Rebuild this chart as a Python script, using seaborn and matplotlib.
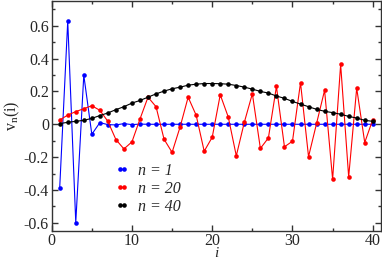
import numpy as np
import pandas as pd
import matplotlib
matplotlib.use("Agg")
import matplotlib.pyplot as plt
import seaborn as sns
from matplotlib.ticker import MultipleLocator, FuncFormatter
from matplotlib.lines import Line2D

# ---- data ----
i_vals = list(range(1, 41))
v_n1 = [-0.386, 0.628, -0.598, 0.299, -0.061, 0.010, -0.002, -0.004, 0.004, -0.002,
        0.001, 0.0, 0.0, 0.0, 0.0, 0.0, 0.0, 0.0, 0.0, 0.0,
        0.0, 0.0, 0.0, 0.0, 0.0, 0.0, 0.0, 0.0, 0.0, 0.0,
        0.0, 0.0, 0.0, 0.0, 0.0, 0.0, 0.0, 0.0, 0.0, 0.0]
v_n20 = [0.026, 0.056, 0.077, 0.095, 0.113, 0.085, 0.018, -0.093, -0.150, -0.107,
         0.032, 0.165, 0.107, -0.091, -0.171, -0.016, 0.165, 0.055, -0.164, -0.079,
         0.180, 0.044, -0.192, 0.012, 0.186, -0.147, -0.083, 0.230, -0.137, -0.103,
         0.253, -0.197, 0.005, 0.207, -0.335, 0.364, -0.320, 0.220, -0.111, 0.028]
v_n40 = [0.004, 0.012, 0.018, 0.024, 0.036, 0.053, 0.069, 0.089, 0.107, 0.129,
         0.145, 0.165, 0.185, 0.202, 0.216, 0.226, 0.238, 0.244, 0.248, 0.248,
         0.247, 0.244, 0.236, 0.226, 0.214, 0.200, 0.190, 0.172, 0.158, 0.139,
         0.123, 0.107, 0.091, 0.079, 0.071, 0.061, 0.048, 0.038, 0.024, 0.018]
series_labels = ["n = 1", "n = 20", "n = 40"]
series_colors = ["#0000ff", "#ff0000", "#000000"]
x_ticks = [0, 10, 20, 30, 40]
y_ticks = [-0.6, -0.4, -0.2, 0.0, 0.2, 0.4, 0.6]

df = pd.DataFrame({
    "i": i_vals * 3,
    "v": v_n1 + v_n20 + v_n40,
    "n": [series_labels[0]] * 40 + [series_labels[1]] * 40 + [series_labels[2]] * 40,
})

sns.set_style("ticks")
plt.rcParams["font.family"] = ["Liberation Serif", "DejaVu Serif"]
plt.rcParams["mathtext.fontset"] = "custom"
plt.rcParams["mathtext.rm"] = "Liberation Serif"
plt.rcParams["mathtext.it"] = "Liberation Serif:italic"

fig = plt.figure(figsize=(3.82, 2.62), dpi=100)
ax = fig.add_axes([0.1353, 0.118, 0.8615, 0.878])

sns.lineplot(data=df, x="i", y="v", hue="n", hue_order=series_labels,
             palette=series_colors, marker="o", markersize=3.3,
             markeredgewidth=0, linewidth=0.8, legend=False, ax=ax,
             sort=False, estimator=None)

ax.set_xlim(0, 41)
ax.set_ylim(-0.65, 0.75)
ax.set_xticks(x_ticks)
ax.set_yticks(y_ticks)
ax.xaxis.set_minor_locator(MultipleLocator(5))
ax.yaxis.set_minor_locator(MultipleLocator(0.1))
ax.yaxis.set_major_formatter(FuncFormatter(lambda v, p: "0" if abs(v) < 1e-9 else f"{v:.1f}"))
ax.tick_params(which="both", direction="in", top=True, right=True, width=1.0, color="#333333")
ax.tick_params(which="major", length=4.3, labelsize=11.5)
ax.tick_params(which="minor", length=2.2)
ax.tick_params(axis="y", pad=2)
ax.tick_params(axis="x", pad=1.5)
for s in ax.spines.values():
    s.set_linewidth(1.0)
    s.set_color("#333333")

ax.set_xlabel("i", fontsize=11, fontstyle="italic")
ax.set_ylabel(r"$\mathrm{v_n(i)}$", fontsize=11.5)
ax.xaxis.set_label_coords(0.5, -0.068)
ax.yaxis.set_label_coords(-0.09, 0.5)

handles = []
for c, lab in zip(series_colors, series_labels):
    handles.append(Line2D([], [], color=c, marker="o", markersize=3.3,
                          markeredgewidth=0, linewidth=0.8, label=lab))
leg = ax.legend(handles=handles, loc="center", bbox_to_anchor=(0.387, 0.279),
                bbox_transform=fig.transFigure, frameon=False, numpoints=2,
                handlelength=0.9, handletextpad=0.55, labelspacing=0.12,
                borderpad=0, prop={"family": "Liberation Serif", "style": "italic", "size": 11.5})

fig.savefig("out.png", dpi=100)
